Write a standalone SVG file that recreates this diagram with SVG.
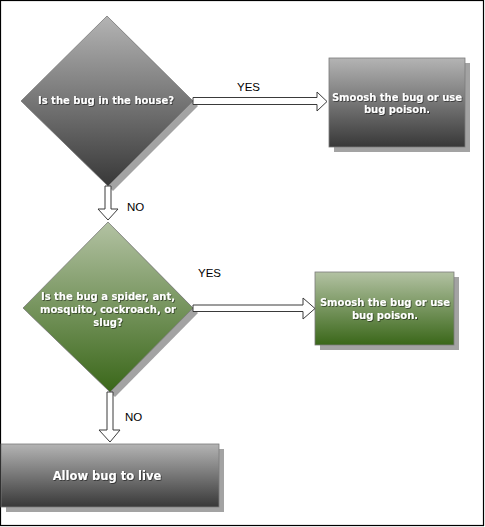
<svg xmlns="http://www.w3.org/2000/svg" width="485" height="527" viewBox="0 0 485 527">
<defs>
<linearGradient id="gGray" x1="0" y1="0" x2="0" y2="1">
<stop offset="0" stop-color="#b4b4b4"/>
<stop offset="1" stop-color="#383838"/>
</linearGradient>
<linearGradient id="gGreen" x1="0" y1="0" x2="0" y2="1">
<stop offset="0" stop-color="#b3c2a3"/>
<stop offset="1" stop-color="#3a6719"/>
</linearGradient>
<filter id="ts" x="-10%" y="-30%" width="120%" height="160%">
<feDropShadow dx="0.8" dy="0.8" stdDeviation="0.4" flood-color="#000" flood-opacity="0.6"/>
</filter>
</defs>
<style>
.shadow{fill:#a3a3a3;}
.node{stroke:#7a7a7a;stroke-width:0.8;}
.t{font-family:"DejaVu Sans","Verdana",sans-serif;font-weight:bold;font-size:10px;fill:#ffffff;text-anchor:middle;filter:url(#ts);}
.lbl{font-family:"Liberation Sans",Arial,sans-serif;font-size:11.5px;fill:#000;}
.arrow{fill:#ffffff;stroke:#3a3a3a;stroke-width:1;stroke-linejoin:miter;}
</style>
<rect x="0.5" y="0.5" width="483" height="525" fill="#ffffff" stroke="#000000" stroke-width="1.2"/>

<g id="q1">
<polygon class="shadow" points="112,21 198,106 113,191 26,106"/>
<polygon class="node" fill="url(#gGray)" points="107,16 193,101 108,186 21,101"/>
<text class="t" x="106" y="104">Is the bug in the house?</text>
</g>

<g id="a1">
<rect class="shadow" x="334" y="63" width="136" height="89"/>
<rect class="node" fill="url(#gGray)" x="329" y="58" width="136" height="89"/>
<text class="t" x="397" y="100.5">Smoosh the bug or use</text>
<text class="t" x="397" y="113">bug poison.</text>
</g>

<g id="q2">
<polygon class="shadow" points="113,227 198,313 115,397 28,313"/>
<polygon class="node" fill="url(#gGreen)" points="108,222 193,308 110,392 23,308"/>
<text class="t" x="108" y="300">Is the bug a spider, ant,</text>
<text class="t" x="108" y="312.5">mosquito, cockroach, or</text>
<text class="t" x="108" y="325.5">slug?</text>
</g>

<g id="a2">
<rect class="shadow" x="320" y="277" width="139" height="73"/>
<rect class="node" fill="url(#gGreen)" x="315" y="272" width="139" height="73"/>
<text class="t" x="385" y="306">Smoosh the bug or use</text>
<text class="t" x="385" y="319">bug poison.</text>
</g>

<g id="a3">
<rect class="shadow" x="6" y="449" width="218" height="63"/>
<rect class="node" fill="url(#gGray)" x="1" y="444" width="218" height="63"/>
<text class="t" x="107" y="480" style="font-size:11.5px">Allow bug to live</text>
</g>

<g id="connectors">
<polygon class="arrow" points="193,97.5 317,97.5 317,92 327,101.5 317,111 317,104.5 193,104.5"/>
<text class="lbl" x="237" y="91">YES</text>
<polygon class="arrow" points="105,186 111,186 111,209 118,209 108,220 98,209 105,209"/>
<text class="lbl" x="127" y="211">NO</text>
<polygon class="arrow" points="193,305 303,305 303,298 315,308.5 303,319 303,311.5 193,311.5"/>
<text class="lbl" x="198" y="277">YES</text>
<polygon class="arrow" points="107,392 113,392 113,430 120,430 110,442 99,430 107,430"/>
<text class="lbl" x="125" y="421">NO</text>
</g>
</svg>
